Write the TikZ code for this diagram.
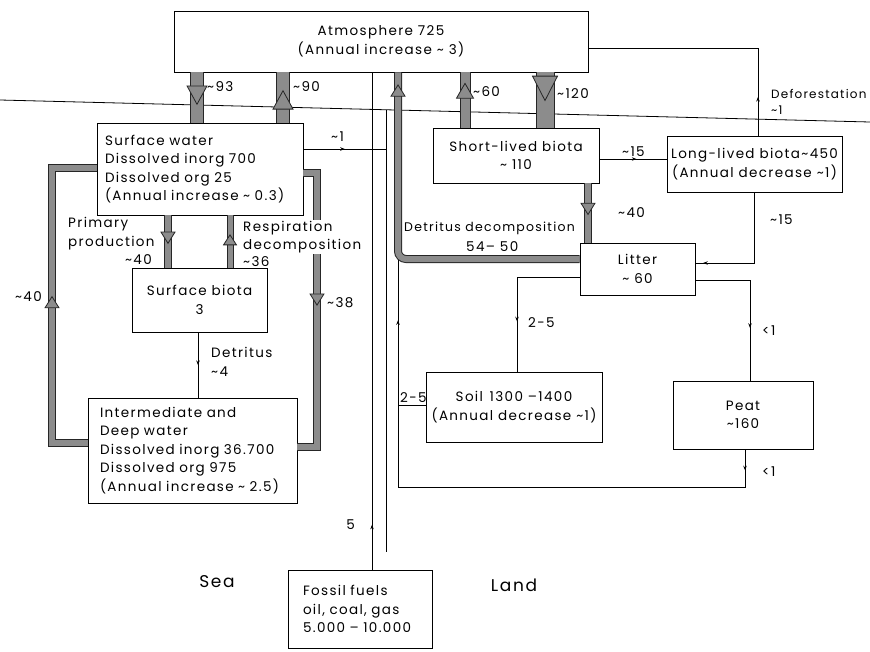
\documentclass[tikz,border=0pt]{standalone}
\usepackage{fontspec}
\newfontfamily\lab{Poppins}[LetterSpace=10]
\usetikzlibrary{decorations.markings,arrows.meta}
\newcommand\tld{\textasciitilde}
\begin{document}
\begin{tikzpicture}[x=1pt,y=-1pt,
  every node/.style={font=\lab\fontsize{13.5}{18.5}\selectfont},
  box/.style={draw, line width=0.9pt, fill=white, inner sep=0pt, align=center},
  lbox/.style args={#1/#2}{draw, line width=0.9pt, fill=white, inner ysep=0pt, inner xsep=#1, text width=#2, align=left},
  conn/.style={draw, line width=0.8pt},
  mid/.style={postaction={decorate, decoration={markings, mark=at position #1 with {\arrow{Stealth[length=4.5pt,width=3.5pt]}}}}},
  band/.style={draw=black!85, line width=#1pt+2pt, postaction={draw=black!45, line width=#1pt}},
  bandarr/.style 2 args={postaction={decorate, decoration={markings, mark=at position #1 with {\filldraw[fill=black!45, draw=black!85, line width=0.8pt] (0.4*#2+2,0) -- (-0.8*#2-2,0.5*#2+4) -- (-0.8*#2-2,-0.5*#2-4) -- cycle;}}}},
  lbl/.style={inner sep=0pt, anchor=west, align=left},
]
\useasboundingbox (0,0) rectangle (870,651);

% helper coordinates
\coordinate (x93) at (197,0);  \coordinate (x90) at (283,0);
\coordinate (xA) at (372,0);   \coordinate (xB) at (386,0);  \coordinate (xC) at (398,0);
\coordinate (x60) at (465,0);  \coordinate (x120) at (545,0); \coordinate (x40s) at (588,0);
\coordinate (xPP) at (168,0);  \coordinate (xRD) at (230,0);  \coordinate (xDet) at (198,0);
\coordinate (xL) at (52,0);    \coordinate (xR) at (317,0);
\coordinate (xLS) at (517,0);  \coordinate (xLP) at (750,0);  \coordinate (xLL) at (754,0);
\coordinate (xDef) at (758,0); \coordinate (xPB) at (745,0);
\coordinate (y48) at (0,48);   \coordinate (y110) at (0,110); \coordinate (y149) at (0,149);
\coordinate (y159) at (0,159);
\coordinate (y168) at (0,168); \coordinate (y173) at (0,173); \coordinate (y259) at (0,259);
\coordinate (y263) at (0,263); \coordinate (y277) at (0,277); \coordinate (y280) at (0,280);
\coordinate (y405) at (0,405); \coordinate (y443) at (0,443); \coordinate (y447) at (0,447);
\coordinate (y487) at (0,487);
\coordinate (gl) at (0,100);   \coordinate (gr) at (870,122);
\coordinate (bTop) at (386,109.8); \coordinate (bBot) at (386,552);

% boxes
\node[box, minimum width=414pt, minimum height=61pt] (atm) at (381,41.5) {Atmosphere 725\\(Annual increase \tld{} 3)};
\node[lbox=8pt/190pt, minimum height=92pt] (sw) at (200,169) {Surface water\\Dissolved inorg 700\\Dissolved org 25\\(Annual increase \tld{} 0.3)};
\node[box, minimum width=135pt, minimum height=64pt] (sb) at (199.5,300) {Surface biota\\3};
\node[lbox=12pt/185pt, minimum height=105pt] (deep) at (192.5,450.5) {Intermediate and\\Deep water\\Dissolved inorg 36.700\\Dissolved org 975\\(Annual increase \tld{} 2.5)};
\node[lbox=15pt/114pt, minimum height=78pt] (ff) at (360,609) {Fossil fuels\\oil, coal, gas\\5.000 – 10.000};
\node[box, minimum width=166pt, minimum height=55pt] (slb) at (516,155.5) {Short-lived biota\\\tld{} 110};
\node[box, minimum width=175pt, minimum height=56pt] (llb) at (754.5,164) {Long-lived biota\tld{}450\\(Annual decrease \tld{}1)};
\node[box, minimum width=115pt, minimum height=52pt] (lit) at (637.5,269) {Litter\\\tld{} 60};
\node[box, minimum width=176pt, minimum height=70pt] (soil) at (514,407) {Soil\enspace 1300 –1400\\(Annual decrease \tld{}1)};
\node[box, minimum width=140pt, minimum height=68pt] (peat) at (743,415) {Peat\\\tld{}160};

% thin connectors
\draw[conn] (gl) -- (gr);
\draw[conn, mid=0.5] (sw.east |- y149) -- (xB |- y149);
\draw[conn] (bTop) -- (bBot);
\draw[conn, mid=0.09] (xA |- ff.north) -- (xA |- atm.south);
\draw[conn, mid=0.034, mid=0.9] (xPB |- peat.south) -- (xPB |- y487) -- (xC |- y487) -- (xC |- y259);
\draw[conn] (soil.west |- y405) -- (xC |- y405);
\draw[conn, mid=0.68] (lit.west |- y277) -- (xLS |- y277) -- (xLS |- soil.north);
\draw[conn, mid=0.66] (lit.east |- y280) -- (xLP |- y280) -- (xLP |- peat.north);
\draw[conn, mid=0.94] (xLL |- llb.south) -- (xLL |- y263) -- (lit.east |- y263);
\draw[conn, mid=0.55] (slb.east |- y159) -- (llb.west |- y159);
\draw[conn, mid=0.15] (xDef |- llb.north) -- (xDef |- y48) -- (atm.east |- y48);
\draw[conn, mid=0.5] (xDet |- sb.south) -- (xDet |- deep.north);

% bands
\draw[band=12, bandarr={0.5}{12}] (x93 |- atm.south) -- (x93 |- sw.north);
\draw[band=12, bandarr={0.5}{12}] (x90 |- sw.north) -- (x90 |- atm.south);
\draw[band=9, bandarr={0.7}{9}] (x60 |- slb.north) -- (x60 |- atm.south);
\draw[band=17, bandarr={0.35}{17}] (x120 |- atm.south) -- (x120 |- slb.north);
\draw[band=6, rounded corners=8pt] (lit.west |- y259) -- (xC |- y259) -- (xC |- atm.south);
\path[bandarr={0.55}{6}] (xC |- y110) -- (xC |- atm.south);
\draw[band=6, bandarr={0.45}{6}] (x40s |- slb.south) -- (x40s |- lit.north);
\draw[band=6, bandarr={0.45}{6}] (xPP |- sw.south) -- (xPP |- sb.north);
\draw[band=5, bandarr={0.55}{5}] (xRD |- sb.north) -- (xRD |- sw.south);
\draw[band=6, bandarr={0.5}{6}] (deep.west |- y443) -- (xL |- y443) -- (xL |- y168) -- (sw.west |- y168);
\draw[band=6, bandarr={0.46}{6}] (sw.east |- y173) -- (xR |- y173) -- (xR |- y447) -- (deep.east |- y447);

% labels
\node[lbl] (l93) at (207,87) {\tld 93};
\node[lbl] (l90) at (293,87) {\tld 90};
\node[lbl] (l60) at (473,92) {\tld 60};
\node[lbl] (l120) at (557,94) {\tld 120};
\node[lbl] (l1) at (331,137) {\tld 1};
\node[lbl] (lpp) at (68,233.5) {Primary\\production};
\node[lbl, anchor=east] (lpp40) at (152,260) {\tld 40};
\node[lbl, fill=white, inner sep=1pt] (lrd) at (242,237) {Respiration\\decomposition};
\node[lbl] (lrd36) at (243,262) {\tld 36};
\node[lbl, anchor=east] (ll40) at (42,297) {\tld 40};
\node[lbl] (lr38) at (327,303) {\tld 38};
\node[lbl] (ldet) at (211,362) {Detritus\\\tld 4};
\node[lbl, font=\lab\fontsize{12.5}{18.5}\selectfont] (ldd) at (404,228) {Detritus decomposition};
\node[lbl] (ldd2) at (466,247) {54– 50};
\node[lbl] (ls40) at (618,213) {\tld 40};
\node[lbl] (l15a) at (622,152) {\tld 15};
\node[lbl] (l15b) at (770,220) {\tld 15};
\node[lbl] (l25a) at (528,323) {2-5};
\node[lbl] (l25b) at (400,398) {2-5};
\node[lbl] (llt1) at (762,331) {<1};
\node[lbl] (llt2) at (762,472) {<1};
\node[lbl, font=\lab\fontsize{12}{16}\selectfont] (ldef) at (771,102) {Deforestation\\\tld 1};
\node[lbl, anchor=east] (l5) at (355,525) {5};
\node[font=\lab\fontsize{17}{20}\selectfont] (sea) at (217,582) {Sea};
\node[font=\lab\fontsize{17}{20}\selectfont] (land) at (514,585) {Land};
\end{tikzpicture}
\end{document}
